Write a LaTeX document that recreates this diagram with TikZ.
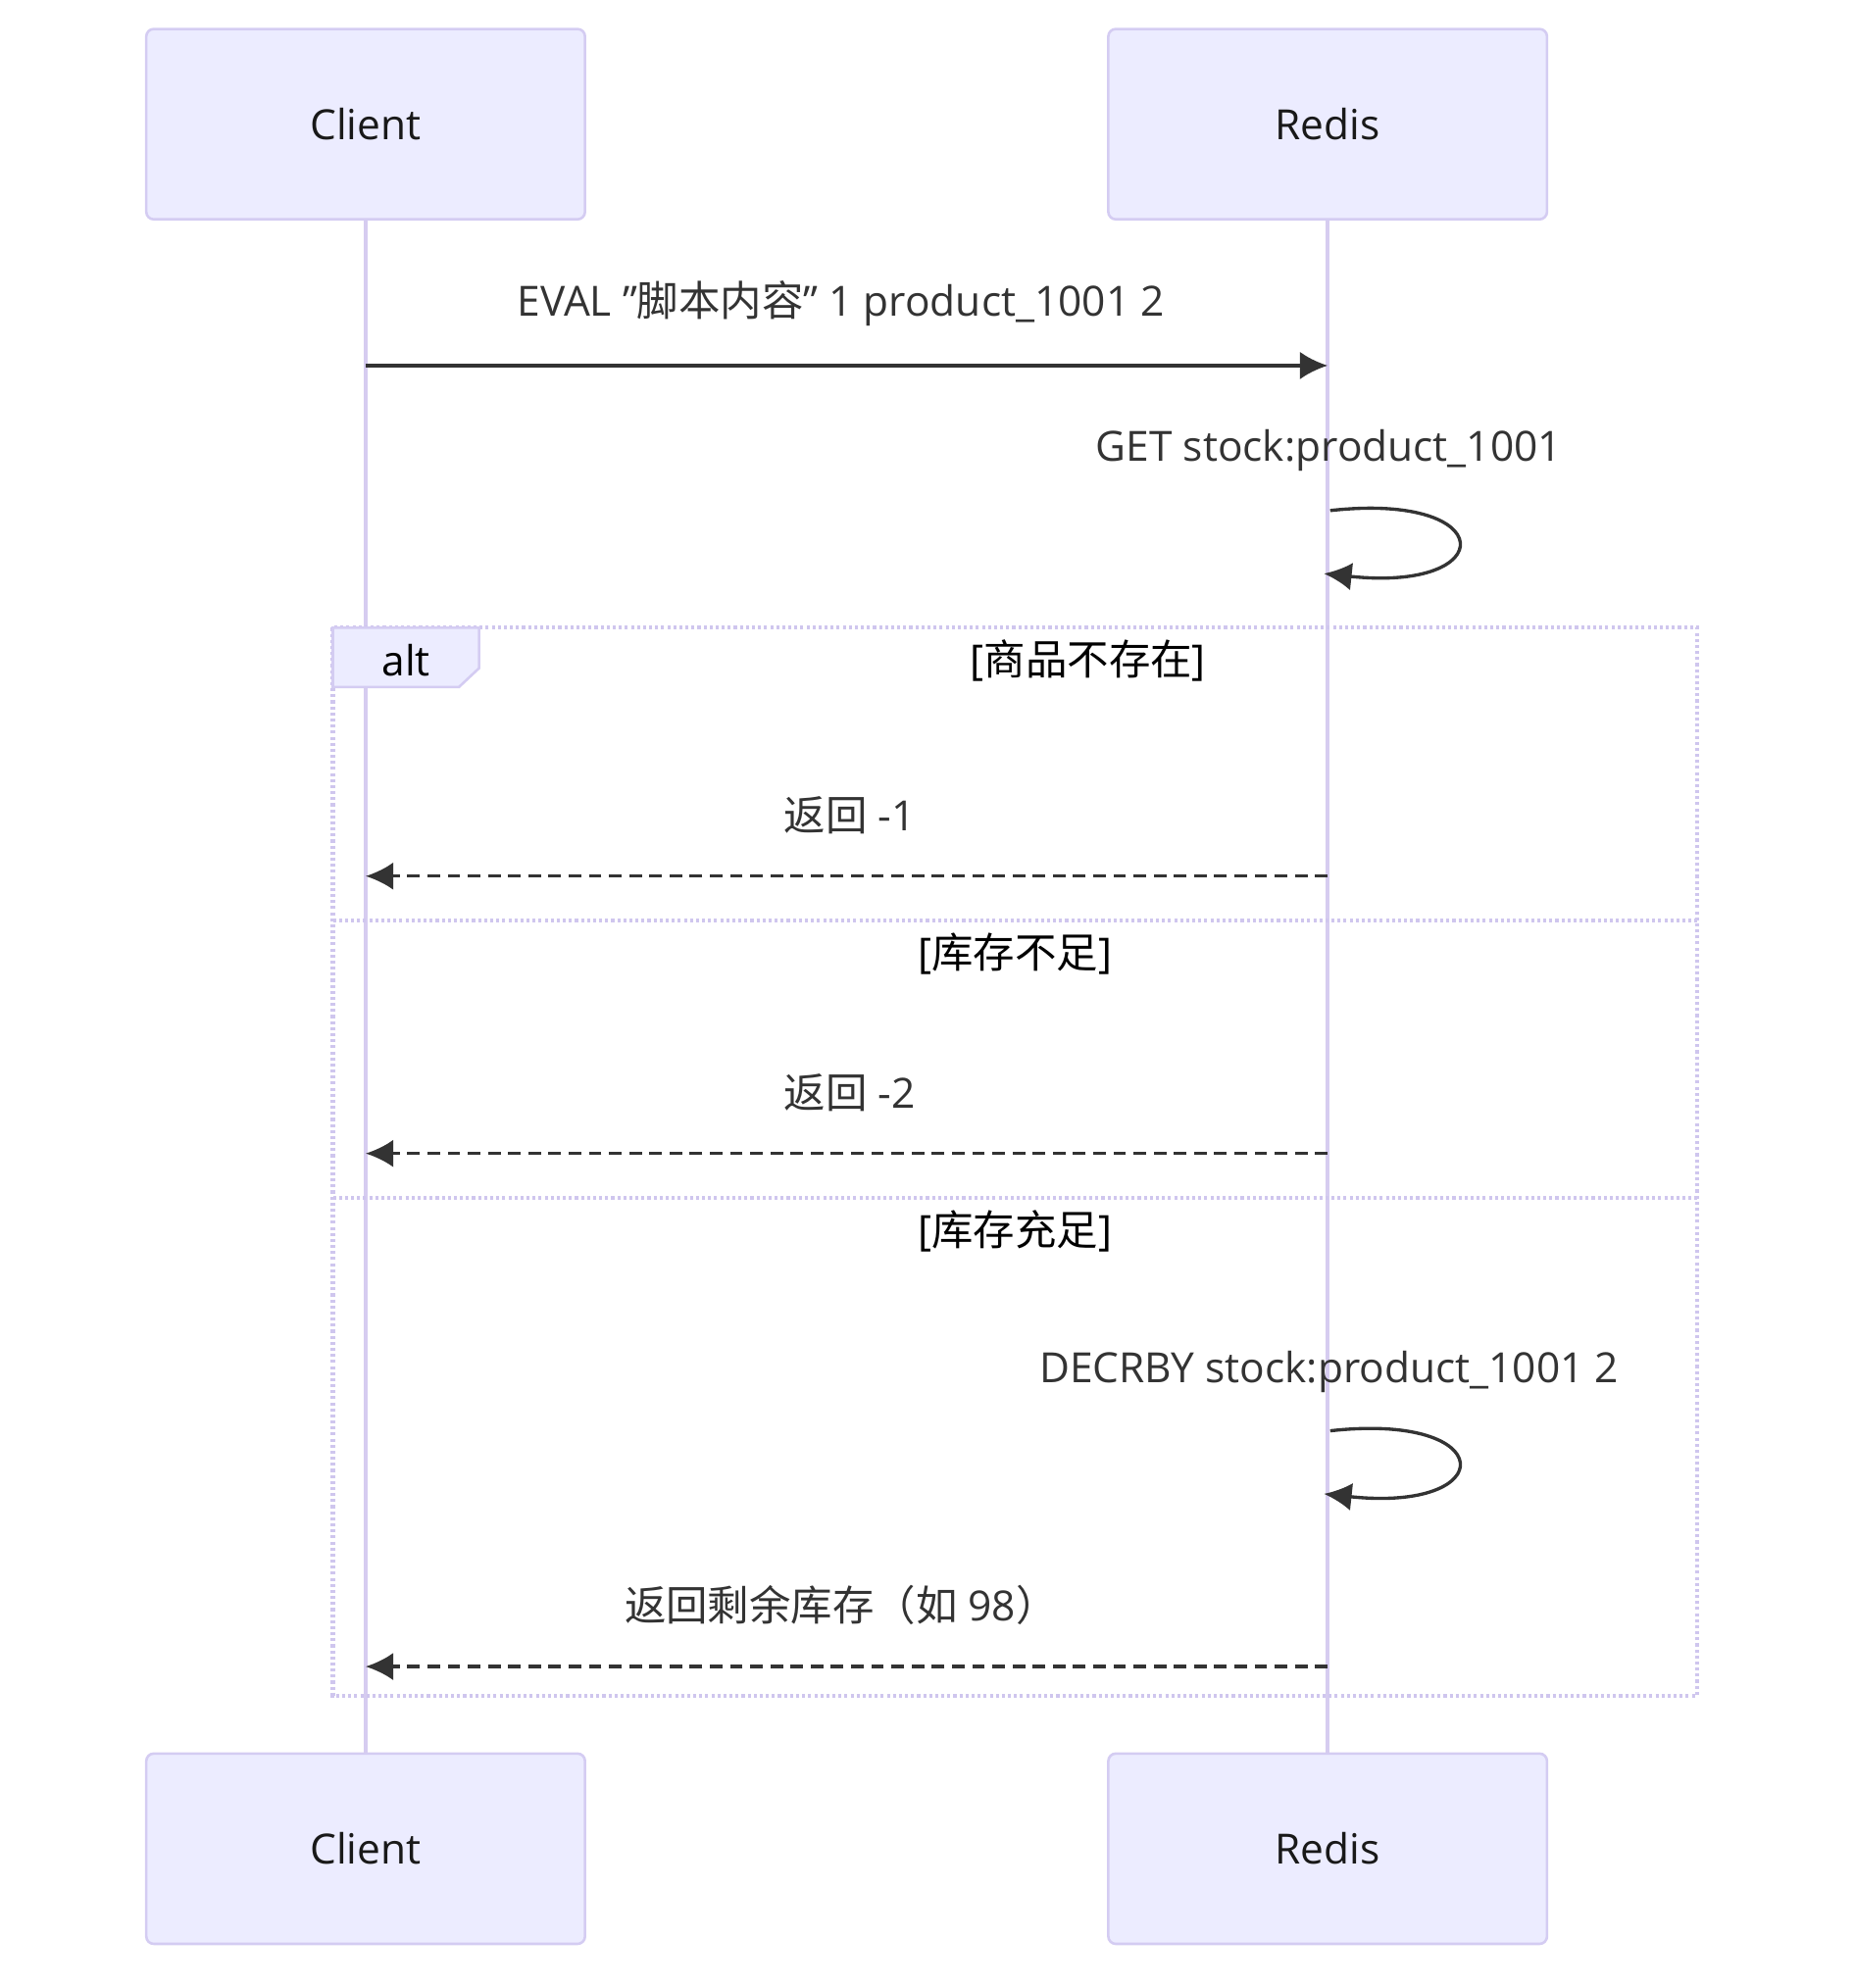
\documentclass[tikz,border=0pt]{standalone}
\usepackage{fontspec}
\setmainfont{Open Sans}
\newfontfamily\cjk{Noto Sans CJK SC}
\usetikzlibrary{arrows.meta}
\definecolor{boxfill}{HTML}{ECECFF}
\definecolor{boxdraw}{HTML}{D4CCF2}
\definecolor{lifec}{HTML}{D6CCF0}
\definecolor{framec}{HTML}{CFC6EE}
\begin{document}
\begin{tikzpicture}[x=0.5pt,y=-0.5pt,
  actor/.style={draw=boxdraw,fill=boxfill,rounded corners=3pt,line width=1pt,minimum width=174pt,minimum height=75.5pt,font=\fontsize{16.5}{20}\selectfont,text=black!90},
  life/.style={draw=lifec,line width=1.6pt},
  msg/.style={draw=black!80,line width=1.3pt,-{Latex[length=11pt,width=11pt]}},
  lbl/.style={font=\fontsize{16.5}{20}\selectfont,text=black!80},
  frame/.style={draw=framec,line width=1.6pt,dash pattern=on 1.2pt off 1.2pt}]
\useasboundingbox (0,0) rectangle (1470,1577);
\node[actor] (c1) at (290,98.5) {Client};
\node[actor] (r1) at (1053,98.5) {Redis};
\node[actor] (c2) at (290,1466.5) {Client};
\node[actor] (r2) at (1053,1466.5) {Redis};
\draw[life] (c1.south) -- (c2.north);
\draw[life] (r1.south) -- (r2.north);
% frame
\draw[frame] (264,498) rectangle (1346,1345);
\draw[frame] (264,730) -- (1346,730);
\draw[frame] (264,950) -- (1346,950);
\draw[draw=boxdraw,fill=boxfill,line width=1pt] (264,498) -- (380,498) -- (380,530) -- (364,545) -- (264,545) -- cycle;
\node[lbl,text=black] (alt) at (322,524) {alt};
\node[lbl,text=black] (g1) at (863,524) {[{\cjk 商品不存在}]};
\node[lbl,text=black] (g2) at (805,757) {[{\cjk 库存不足}]};
\node[lbl,text=black] (g3) at (805,977) {[{\cjk 库存充足}]};
% messages
\coordinate (a1) at (290,290); \coordinate (b1) at (1053,290);
\node[lbl] (m1) at (667,241) {EVAL "{\cjk 脚本内容}" 1 product\_1001 2};
\draw[msg] (a1) -- (b1);
\node[lbl] (m2) at (1054,357) {GET stock:product\_1001};
\coordinate (s1) at (1055,405); \coordinate (e1) at (1050,455);
\draw[msg] (s1) .. controls (1190,390) and (1190,470) .. (e1);
\coordinate (a3) at (1053,695); \coordinate (b3) at (290,695);
\node[lbl] (m3) at (674,647) {{\cjk 返回} -1};
\draw[msg,dash pattern=on 5pt off 3pt] (a3) -- (b3);
\coordinate (a4) at (1053,915); \coordinate (b4) at (290,915);
\node[lbl] (m4) at (674,867) {{\cjk 返回} -2};
\draw[msg,dash pattern=on 5pt off 3pt] (a4) -- (b4);
\node[lbl] (m5) at (1054,1088) {DECRBY stock:product\_1001 2};
\coordinate (s2) at (1055,1135); \coordinate (e2) at (1050,1185);
\draw[msg] (s2) .. controls (1190,1120) and (1190,1200) .. (e2);
\coordinate (a6) at (1053,1322); \coordinate (b6) at (290,1322);
\node[lbl] (m6) at (667,1273) {{\cjk 返回剩余库存（如} 98{\cjk ）}};
\draw[msg,dash pattern=on 5pt off 3pt] (a6) -- (b6);
\end{tikzpicture}
\end{document}
